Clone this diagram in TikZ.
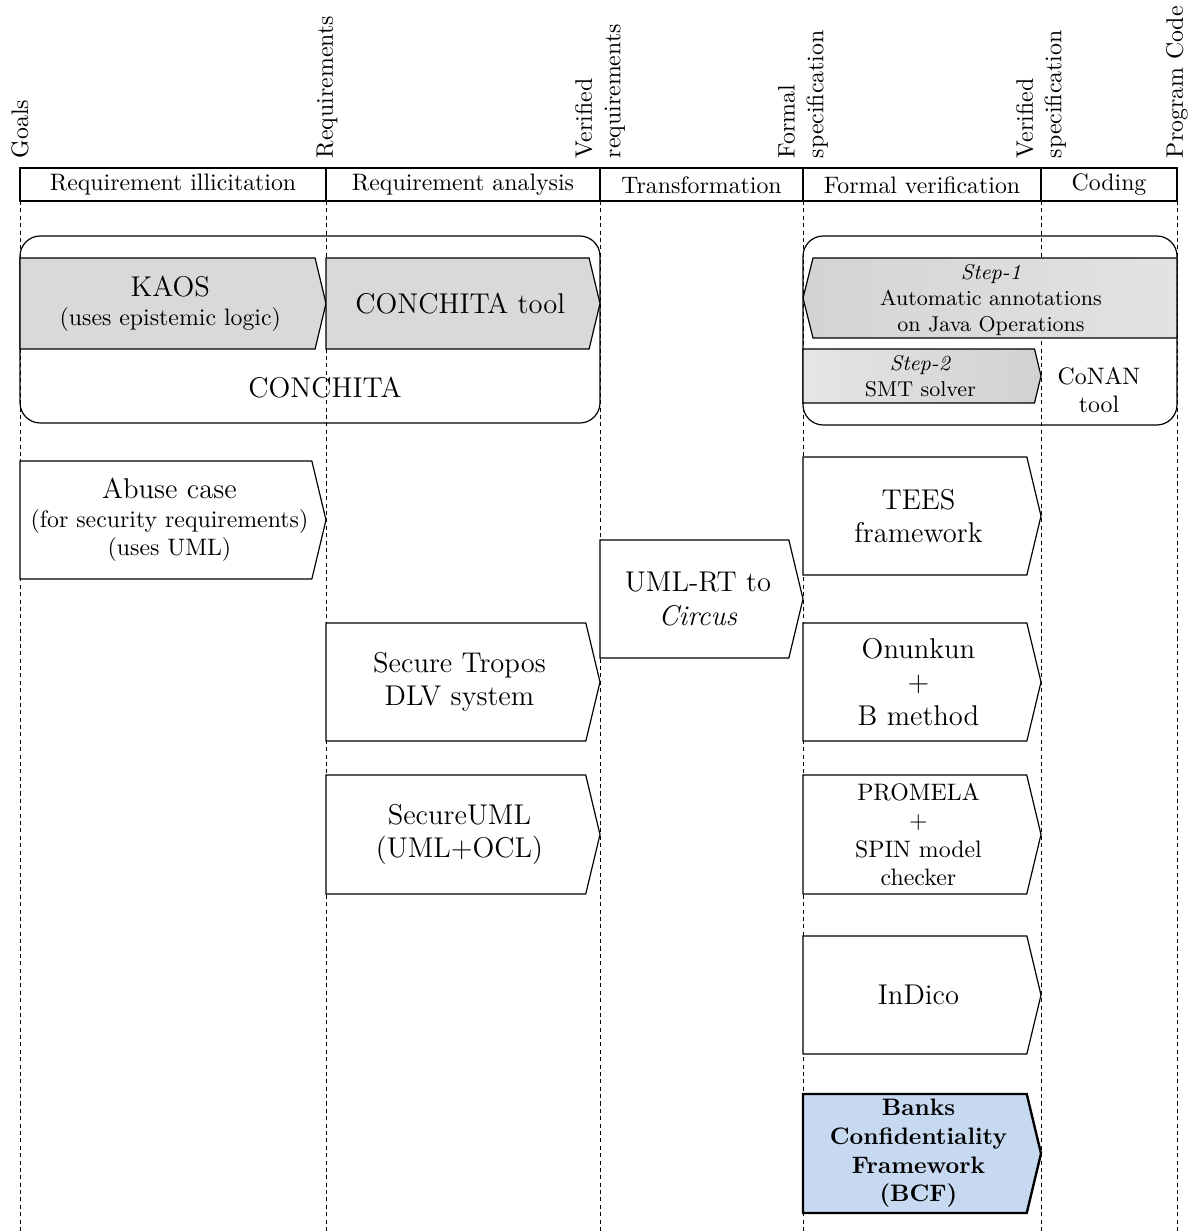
\documentclass[tikz,border=0pt]{standalone}
\definecolor{bcfblue}{RGB}{198,217,240}
% right-pointing process box with its label:
% #1 name, #2 box style, #3 font, #4 x1, #5 y1, #6 x2 (tip), #7 y2, #8 text
\newcommand\arrowR[8]{%
  \path[#2] (#4,#5) -- ({#6-0.12*(#7-#5)},#5) -- (#6,{(#5+#7)/2})
        -- ({#6-0.12*(#7-#5)},#7) -- (#4,#7) -- cycle;
  \node[boxtext,font=#3] (#1) at ({(#4+#6)/2-0.03*(#7-#5)},{(#5+#7)/2}) {#8};}
\begin{document}
\begin{tikzpicture}[x=0.42pt,y=-0.42pt,
  phase/.style={dash pattern=on 1.7pt off 1.4pt, line width=0.4pt},
  milestone/.style={rotate=90, anchor=west, align=left, inner sep=1pt},
  headcell/.style={inner sep=0pt},
  whitebox/.style={draw, fill=white, line width=0.5pt},
  graybox/.style={draw, fill=black!15, line width=0.5pt},
  stepone/.style={draw, left color=black!17, right color=black!11, line width=0.5pt},
  steptwo/.style={draw, left color=black!10, right color=black!18, line width=0.5pt},
  bcfbox/.style={draw, fill=bcfblue, line width=1pt},
  group/.style={draw, rounded corners=8.5pt, line width=0.5pt},
  boxtext/.style={align=center, inner sep=0pt}
]
\useasboundingbox (0,0) rectangle (1195,1232);

% phase boundaries
\foreach \x in {20,326,600,803,1041,1177}
  \draw[phase] (\x,201) -- (\x,1232);

% artefacts between the phases
\node[milestone] (goals) at (20,161) {Goals};
\node[milestone] (req) at (327,161) {Requirements};
\node[milestone] (vreq) at (600,161) {Verified\\requirements};
\node[milestone] (fspec) at (803,161) {Formal\\specification};
\node[milestone] (vspec) at (1041,161) {Verified\\specification};
\node[milestone] (code) at (1177,161) {Program Code};

% phase header
\draw[line width=0.5pt] (20,168) rectangle (1177,201);
\foreach \x in {326,600,803,1041}
  \draw[line width=0.5pt] (\x,168) -- (\x,201);
\node[headcell] (h1) at (173,185) {Requirement illicitation};
\node[headcell] (h2) at (463,185) {Requirement analysis};
\node[headcell] (h3) at (701.5,185) {Transformation};
\node[headcell] (h4) at (922,185) {Formal verification};
\node[headcell] (h5) at (1109,185) {Coding};

% CONCHITA group
\draw[group] (20,236) rectangle (600,423);
\arrowR{kaos}{graybox}{\normalsize}{20}{258}{326}{349}{{\large KAOS}\\(uses epistemic logic)}
\arrowR{ctool}{graybox}{\large}{326}{258}{600}{349}{CONCHITA tool}
\node[boxtext,font=\large] (conchita) at (325,388) {CONCHITA};

% CoNAN group
\draw[group] (803,236) rectangle (1177,425);
\path[stepone] (803,298) -- (813,258) -- (1177,258) -- (1177,338) -- (813,338) -- cycle;
\node[boxtext,font=\small] (step1) at (991,300) {\textit{Step-1}\\Automatic annotations\\on Java Operations};
\arrowR{step2}{steptwo}{\small}{803}{349}{1041}{403}{\textit{Step-2}\\SMT solver}
\node[boxtext] (conan) at (1099,390) {CoNAN\\tool};

% other approaches
\arrowR{abuse}{whitebox}{\normalsize}{20}{461}{326}{579}{{\large Abuse case}\\(for security requirements)\\(uses UML)}
\arrowR{tees}{whitebox}{\large}{803}{457}{1041}{575}{TEES\\framework}
\arrowR{umlrt}{whitebox}{\large}{600}{540}{803}{658}{UML-RT to\\\textit{Circus}}
\arrowR{tropos}{whitebox}{\large}{326}{623}{600}{741}{Secure Tropos\\DLV system}
\arrowR{onunkun}{whitebox}{\large}{803}{623}{1041}{741}{Onunkun\\+\\B method}
\arrowR{secuml}{whitebox}{\large}{326}{775}{600}{894}{SecureUML\\(UML+OCL)}
\arrowR{promela}{whitebox}{\normalsize}{803}{775}{1041}{894}{PROMELA\\+\\SPIN model\\checker}
\arrowR{indico}{whitebox}{\large}{803}{936}{1041}{1054}{InDico}
\arrowR{bcf}{bcfbox}{\bfseries}{803}{1094}{1041}{1213}{Banks\\Confidentiality\\Framework\\(BCF)}
\end{tikzpicture}
\end{document}
